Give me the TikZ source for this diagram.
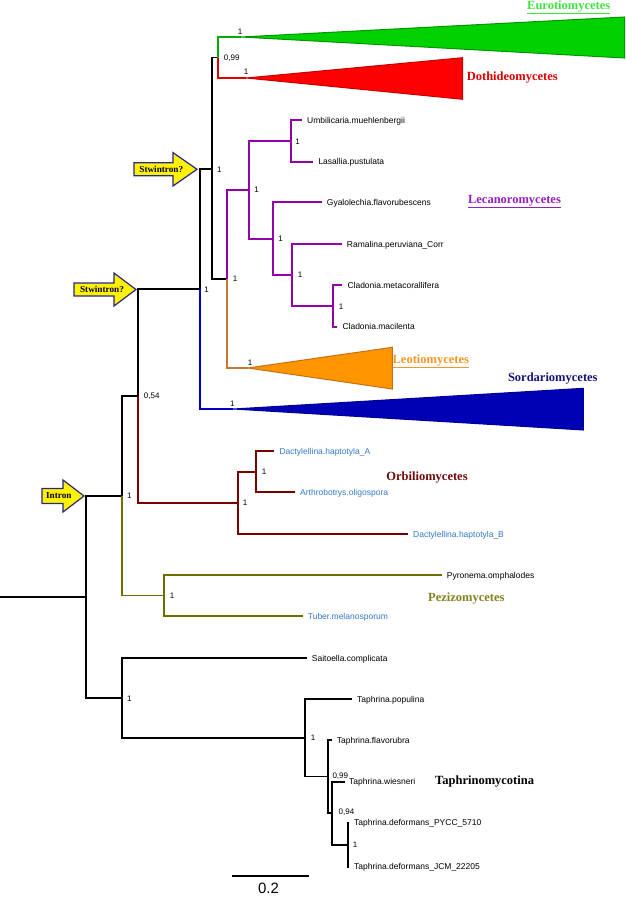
\documentclass[tikz,border=0pt]{standalone}
\usepackage{fontspec}
\setmainfont{Liberation Sans}
\newfontfamily\grpfont{Liberation Serif}
\definecolor{cgreenl}{RGB}{0,170,0}
\definecolor{cgreenf}{RGB}{0,210,0}
\definecolor{cgreend}{RGB}{0,150,0}
\definecolor{cgreent}{RGB}{60,230,60}
\definecolor{credl}{RGB}{220,0,0}
\definecolor{credf}{RGB}{255,0,0}
\definecolor{credd}{RGB}{200,0,0}
\definecolor{credt}{RGB}{225,0,0}
\definecolor{cpurp}{RGB}{150,0,170}
\definecolor{cpurpt}{RGB}{150,30,190}
\definecolor{corgl}{RGB}{200,120,50}
\definecolor{corgf}{RGB}{255,150,0}
\definecolor{corgd}{RGB}{200,110,20}
\definecolor{corgt}{RGB}{245,150,40}
\definecolor{cbluel}{RGB}{0,0,200}
\definecolor{cbluef}{RGB}{0,0,180}
\definecolor{cblued}{RGB}{0,0,150}
\definecolor{cbluet}{RGB}{20,20,120}
\definecolor{cdred}{RGB}{120,0,0}
\definecolor{cdredt}{RGB}{110,10,10}
\definecolor{colive}{RGB}{110,110,0}
\definecolor{colivet}{RGB}{130,130,30}
\definecolor{ctaxblue}{RGB}{50,120,200}
\definecolor{cnavy}{RGB}{40,40,140}
\newcommand\drawarrow[6]{\filldraw[arrshape] (#1,#4-#5) -- (#2,#4-#5) -- (#2,#4-#6) -- (#3,#4) -- (#2,#4+#6) -- (#2,#4+#5) -- (#1,#4+#5) -- cycle;}
\begin{document}
\begin{tikzpicture}[x=1pt,y=-1pt,
  br/.style={line width=1.8pt, line join=miter},
  taxon/.style={anchor=west, inner xsep=5pt, inner ysep=0pt, text height=6.1pt, text depth=0pt, font=\fontsize{8.5}{10}\selectfont},
  supp/.style={font=\fontsize{8}{9}\selectfont, inner sep=0pt},
  grp/.style={anchor=base, inner sep=0pt, font=\grpfont\bfseries\fontsize{12.5}{14}\selectfont},
  arrtxt/.style={font=\grpfont\bfseries\fontsize{9.2}{10}\selectfont, inner sep=0pt},
  arrshape/.style={fill=yellow, draw=cnavy, line width=1.2pt, line join=miter},
  tri/.style={line width=1pt, line join=miter}
]
\useasboundingbox (0,0) rectangle (625,898);

% ---------- internal nodes ----------
\coordinate (R0) at (0,596.7);
\coordinate (R) at (86,596.7);
\coordinate (N1) at (122,496);
\coordinate (N2) at (138,395.7);
\coordinate (N3) at (200,289);
\coordinate (N4) at (212,168.7);
\coordinate (N5) at (218,57.5);
\coordinate (N6) at (227,279);
\coordinate (L1) at (249,190);
\coordinate (L2) at (291,140.9);
\coordinate (L3) at (273,238.8);
\coordinate (L4) at (292,275.2);
\coordinate (L5) at (333,305.9);
\coordinate (O1) at (238,502.8);
\coordinate (O2) at (256,471.7);
\coordinate (P1) at (164,595.5);
\coordinate (T1) at (122,697.9);
\coordinate (T2) at (305,737.8);
\coordinate (T3) at (328,776.4);
\coordinate (T4) at (332,812.9);
\coordinate (T5) at (348,844.7);

% collapsed clade apices
\coordinate (euro) at (241,37);
\coordinate (doth) at (246,78);
\coordinate (leo) at (248,368);
\coordinate (sord) at (233,409);

% ---------- leaves ----------
\node[taxon] (umb) at (302,120) {Umbilicaria.muehlenbergii};
\node[taxon] (las) at (313.3,161.7) {Lasallia.pustulata};
\node[taxon] (gya) at (321.7,202.3) {Gyalolechia.flavorubescens};
\node[taxon] (ram) at (341.7,244.3) {Ramalina.peruviana\_Corr};
\node[taxon] (cme) at (342.3,285) {Cladonia.metacorallifera};
\node[taxon] (cma) at (337.3,326.7) {Cladonia.macilenta};
\node[taxon, text=ctaxblue] (dha) at (274.3,451) {Dactylellina.haptotyla\_A};
\node[taxon, text=ctaxblue] (aol) at (295,492.3) {Arthrobotrys.oligospora};
\node[taxon, text=ctaxblue] (dhb) at (408,534) {Dactylellina.haptotyla\_B};
\node[taxon] (pyr) at (441.7,575) {Pyronema.omphalodes};
\node[taxon, text=ctaxblue] (tub) at (302.7,616) {Tuber.melanosporum};
\node[taxon] (sai) at (306.7,658) {Saitoella.complicata};
\node[taxon] (tpo) at (352,699) {Taphrina.populina};
\node[taxon] (tfl) at (331.7,740) {Taphrina.flavorubra};
\node[taxon, inner xsep=4pt] (twi) at (345,781.7) {Taphrina.wiesneri};
\node[taxon] (tpy) at (349,822.7) {Taphrina.deformans\_PYCC\_5710};
\node[taxon] (tjc) at (349,866.7) {Taphrina.deformans\_JCM\_22205};

% ---------- branches ----------
\draw[br] (R0) -- (R);
\draw[br] (R) |- (N1);
\draw[br] (R) |- (T1);
\draw[br] (N1) |- (N2);
\draw[br, colive] (N1) |- (P1);
\draw[br] (N2) |- (N3);
\draw[br, cdred] (N2) |- (O1);
\draw[br] (N3) |- (N4);
\draw[br, cbluel] (N3) |- (sord);
\draw[br] (N4) |- (N5);
\draw[br] (N4) |- (N6);
\draw[br, cgreenl] (N5) |- (euro);
\draw[br, credl] (N5) |- (doth);
\draw[br, cpurp] (N6) |- (L1);
\draw[br, corgl] (N6) |- (leo);
\draw[br, cpurp] (L1) |- (L2);
\draw[br, cpurp] (L1) |- (L3);
\draw[br, cpurp] (L2) |- (umb.west);
\draw[br, cpurp] (L2) |- (las.west);
\draw[br, cpurp] (L3) |- (gya.west);
\draw[br, cpurp] (L3) |- (L4);
\draw[br, cpurp] (L4) |- (ram.west);
\draw[br, cpurp] (L4) |- (L5);
\draw[br, cpurp] (L5) |- (cme.west);
\draw[br, cpurp] (L5) |- (cma.west);
\draw[br, cdred] (O1) |- (O2);
\draw[br, cdred] (O1) |- (dhb.west);
\draw[br, cdred] (O2) |- (dha.west);
\draw[br, cdred] (O2) |- (aol.west);
\draw[br, colive] (P1) |- (pyr.west);
\draw[br, colive] (P1) |- (tub.west);
\draw[br] (T1) |- (sai.west);
\draw[br] (T1) |- (T2);
\draw[br] (T2) |- (tpo.west);
\draw[br] (T2) |- (T3);
\draw[br] (T3) |- (tfl.west);
\draw[br] (T3) |- (T4);
\draw[br] (T4) |- (twi.west);
\draw[br] (T4) |- (T5);
\draw[br] (T5) |- (tpy.west);
\draw[br] (T5) |- (tjc.west);

% ---------- collapsed triangles ----------
\filldraw[tri, fill=cgreenf, draw=cgreend] (euro) -- (624.5,17) -- (624.5,58) -- cycle;
\filldraw[tri, fill=credf, draw=credd] (doth) -- (462.7,57.7) -- (462.7,99.3) -- cycle;
\filldraw[tri, fill=corgf, draw=corgd] (leo) -- (392.3,347.3) -- (392.3,389) -- cycle;
\filldraw[tri, fill=cbluef, draw=cblued] (sord) -- (583.3,388.3) -- (583.3,430) -- cycle;

% ---------- support values ----------
\node[supp] (s1) at (240,32) {1};
\node[supp] (s2) at (246,72) {1};
\node[supp] (s3) at (231.7,58.3) {0,99};
\node[supp] (s4) at (219.3,170) {1};
\node[supp] (s5) at (235,279) {1};
\node[supp] (s6) at (256.7,190) {1};
\node[supp] (s7) at (297.7,141.7) {1};
\node[supp] (s8) at (280.7,239) {1};
\node[supp] (s9) at (300,275) {1};
\node[supp] (s10) at (341,306.7) {1};
\node[supp] (s11) at (250,362.3) {1};
\node[supp] (s12) at (206.7,289.3) {1};
\node[supp] (s13) at (232.3,404) {1};
\node[supp] (s14) at (151.7,396) {0,54};
\node[supp] (s15) at (129.3,496) {1};
\node[supp] (s16) at (245,502.7) {1};
\node[supp] (s17) at (264,472) {1};
\node[supp] (s18) at (172,596) {1};
\node[supp] (s19) at (129.3,698.3) {1};
\node[supp] (s20) at (313,738) {1};
\node[supp] (s21) at (340.3,776) {0,99};
\node[supp] (s22) at (346.5,812.7) {0,94};
\node[supp] (s23) at (355,844.3) {1};

% ---------- group labels ----------
\node[grp, text=cgreent] (gEuro) at (568.7,9.5) {\underline{Eurotiomycetes}};
\node[grp, text=credt] (gDoth) at (512.3,80) {Dothideomycetes};
\node[grp, text=cpurpt] (gLec) at (514.5,203) {\underline{Lecanoromycetes}};
\node[grp, text=corgt] (gLeo) at (430.8,363.3) {\underline{Leotiomycetes}};
\node[grp, text=cbluet] (gSord) at (552.8,381.7) {Sordariomycetes};
\node[grp, text=cdredt] (gOrb) at (427,480) {Orbiliomycetes};
\node[grp, text=colivet] (gPez) at (466.3,601) {Pezizomycetes};
\node[grp, anchor=base west] (gTaph) at (435,784) {Taphrinomycotina};

% ---------- event arrows ----------
\drawarrow{134}{173}{197}{169.3}{6.5}{16.7}
\node[arrtxt] (aS1) at (161.3,169.3) {Stwintron?};
\drawarrow{74}{114}{136}{289.5}{6.5}{16.5}
\node[arrtxt] (aS2) at (102,289.5) {Stwintron?};
\drawarrow{42}{63}{84}{496}{7.5}{16}
\node[arrtxt] (aI) at (58.8,496) {Intron};

% ---------- scale bar ----------
\coordinate (sb1) at (231.7,875.7);
\coordinate (sb2) at (309,875.7);
\draw[line width=1.6pt] (sb1) -- (sb2);
\node[font=\fontsize{15}{16}\selectfont, inner sep=0pt] (sbl) at (268.5,888.5) {0.2};
\end{tikzpicture}
\end{document}
